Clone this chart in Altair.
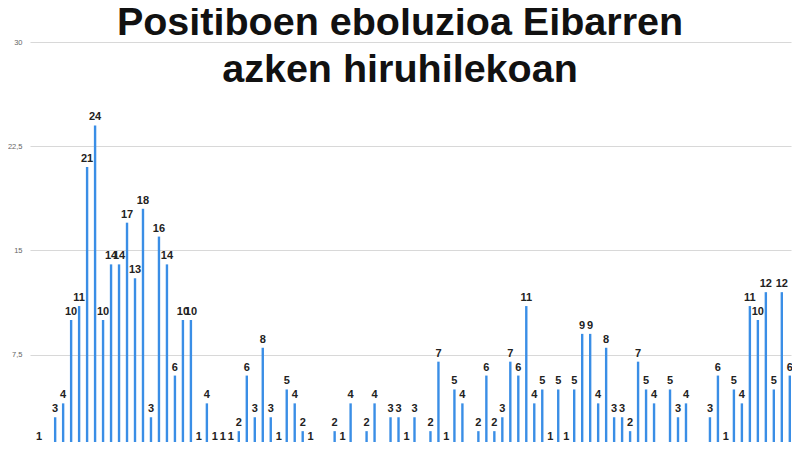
import altair as alt
import pandas as pd

values = [0, 1, 0, 3, 4, 10, 11, 21, 24, 10, 14, 14, 17, 13, 18, 3, 16, 14, 6, 10,
          10, 1, 4, 1, 1, 1, 2, 6, 3, 8, 3, 1, 5, 4, 2, 1, 0, 0, 2, 1,
          4, 0, 2, 4, 0, 3, 3, 1, 3, 0, 2, 7, 1, 5, 4, 0, 2, 6, 2, 3,
          7, 6, 11, 4, 5, 1, 5, 1, 5, 9, 9, 4, 8, 3, 3, 2, 7, 5, 4, 0,
          5, 3, 4, 0, 0, 3, 6, 1, 5, 4, 11, 10, 12, 5, 12, 6]
days = list(range(1, len(values) + 1))
title_lines = ["Positiboen eboluzioa Eibarren", "azken hiruhilekoan"]
y_ticks = [7.5, 15, 22.5, 30]

df = pd.DataFrame({"day": days, "positive": values})

FONT = "Liberation Sans"

base = alt.Chart(df).encode(
    x=alt.X("day:O", axis=None,
            scale=alt.Scale(paddingInner=0.7, paddingOuter=0.0, round=False)),
    y=alt.Y("positive:Q",
            scale=alt.Scale(domain=[1.22, 30], nice=False, zero=False),
            axis=alt.Axis(values=y_ticks, title=None, ticks=False, domain=False,
                          labelPadding=8, labelFontSize=7.5, labelColor="#666",
                          labelFont=FONT, gridColor="#d8d8d8", gridWidth=1.2,
                          labelExpr="replace(format(datum.value, ''), '.', ',')")),
)

bars = base.mark_bar(color="#3a8ee6")
labels = base.mark_text(baseline="alphabetic", dy=-5, fontSize=11, fontWeight="bold",
                        font=FONT, color="#222").encode(text="positive:Q")

chart = (bars + labels).properties(
    width=761,
    height=400,
    title=alt.TitleParams(text=title_lines, fontSize=39.5, font=FONT, fontWeight="bold",
                          color="#111", lineHeight=47, anchor="middle", frame="group",
                          baseline="alphabetic", offset=-83, dx=-10.5),
    autosize=alt.AutoSizeParams(type="none"),
    padding={"left": 22, "top": 34, "right": 1, "bottom": 0},
).configure_view(stroke=None)

chart.save("out.html", embed_options={"renderer": "svg", "actions": False})
